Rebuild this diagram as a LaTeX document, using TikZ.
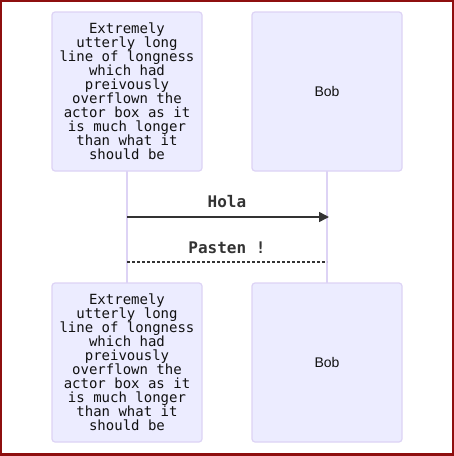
\documentclass[tikz,border=0pt]{standalone}
\usepackage{fontspec}
\setmainfont{Liberation Sans}
\newfontfamily\monofont{DejaVu Sans Mono}
\usetikzlibrary{arrows.meta}
\definecolor{actfill}{HTML}{ECECFF}
\definecolor{actline}{HTML}{DDD3F5}
\definecolor{txt}{HTML}{333333}
\definecolor{acttxt}{HTML}{111111}
\definecolor{frame}{HTML}{8E0F0F}
\tikzset{
  actor/.style={draw=actline, line width=1.2pt, fill=actfill, rounded corners=3pt,
    minimum width=150pt, minimum height=159pt, inner sep=0pt, text=acttxt},
  lifeline/.style={draw=actline, line width=1.8pt},
  longtxt/.style={align=center, font=\monofont\fontsize{14}{14}\selectfont},
  bobtxt/.style={font=\fontsize{14}{16}\selectfont},
  msgtxt/.style={text=txt, font=\monofont\bfseries\fontsize{16}{18}\selectfont, inner sep=0pt},
  solidmsg/.style={draw=txt, line width=1.5pt, -{Triangle[length=10pt,width=10pt]}, shorten >=-2pt},
  dottedmsg/.style={draw=txt, line width=1.5pt, dash pattern=on 3pt off 2pt}
}
\begin{document}
\begin{tikzpicture}[x=1pt,y=-1pt]
\useasboundingbox (0,0) rectangle (454,456);
\draw[frame, line width=2.5pt] (1.2,1.2) rectangle (452.8,454.6);
% lifelines first
\coordinate (a1s) at (127,171);
\coordinate (a2n) at (127,283);
\coordinate (b1s) at (327,171);
\coordinate (b2n) at (327,283);
\draw[lifeline] (a1s) -- (a2n);
\draw[lifeline] (b1s) -- (b2n);
% actors
\node[actor, longtxt] (a1) at (127,91.5) {Extremely\\utterly long\\line of longness\\which had\\preivously\\overflown the\\actor box as it\\is much longer\\than what it\\should be};
\node[actor, bobtxt] (b1) at (327,91.5) {Bob};
\node[actor, longtxt] (a2) at (127,362.5) {Extremely\\utterly long\\line of longness\\which had\\preivously\\overflown the\\actor box as it\\is much longer\\than what it\\should be};
\node[actor, bobtxt] (b2) at (327,362.5) {Bob};
% messages
\coordinate (m1a) at (a1.south |- 0,217);
\coordinate (m1b) at (b1.south |- 0,217);
\coordinate (m2a) at (a1.south |- 0,262);
\coordinate (m2b) at (b1.south |- 0,262);
\node[msgtxt] (l1) at (227,202) {Hola};
\node[msgtxt] (l2) at (227,247.5) {Pasten !};
\draw[solidmsg] (m1a) -- (m1b);
\draw[dottedmsg] (m2a) -- (m2b);
\end{tikzpicture}
\end{document}
